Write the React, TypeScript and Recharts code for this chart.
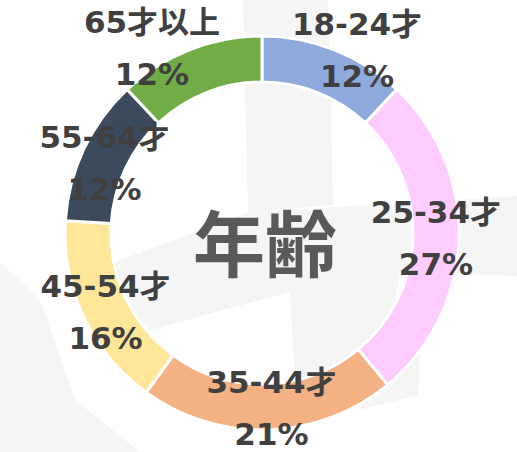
import { PieChart, Pie, Cell } from 'recharts';

const ageGroups = ['18-24才', '25-34才', '35-44才', '45-54才', '55-64才', '65才以上'];
const shares = [12, 27, 21, 16, 12, 12];
const sliceColors = ['#8FAADC', '#FFCCFF', '#F4B183', '#FFE699', '#3C4A5E', '#70AD47'];

const data = ageGroups.map((name, i) => ({ name, value: shares[i] }));

const RAD = Math.PI / 180;
// Excel pushes the two top labels outward
const labelNudge = [[31, -21], [0, 0], [4, 1], [1, 5], [0, 4], [-46, -23]];

const renderLabel = (props: any) => {
  const { cx, cy, midAngle, innerRadius, outerRadius, index, name, percent } = props;
  const r = (innerRadius + outerRadius) / 2;
  const x = cx + r * Math.cos(-midAngle * RAD) + labelNudge[index][0];
  const y = cy + r * Math.sin(-midAngle * RAD) + labelNudge[index][1];
  return (
    <text
      x={x}
      y={y}
      textAnchor="middle"
      fill="#404040"
      fontSize={31}
      fontWeight={700}
      fontFamily="'DejaVu Sans', 'Noto Sans CJK JP', sans-serif"
    >
      <tspan x={x} y={y - 26} dominantBaseline="central">{name}</tspan>
      <tspan x={x} y={y + 26} dominantBaseline="central">{`${Math.round(percent * 100)}%`}</tspan>
    </text>
  );
};

export default function App() {
  return (
    <div style={{ position: 'absolute', left: 0, top: 0, width: 517, height: 452, background: '#fff', overflow: 'hidden' }}>
      {/* faint watermark behind the chart */}
      <svg width={517} height={452} style={{ position: 'absolute', left: 0, top: 0 }}>
        <g fill="#f5f5f5">
          <polygon points="243,0 328,0 333,205 248,212" />
          <polygon points="115,262 250,212 517,196 517,276 400,272 290,292 150,330 118,300" />
          <polygon points="290,292 400,272 392,330 340,370 295,380" />
          <polygon points="0,262 40,300 75,400 140,452 0,452" />
          <polygon points="392,330 420,345 418,395 360,410" />
        </g>
      </svg>
      <div style={{ position: 'absolute', left: 0, top: 0 }}>
        <PieChart width={517} height={452} margin={{ top: 0, right: 0, bottom: 0, left: 0 }}>
          <Pie
            data={data}
            dataKey="value"
            nameKey="name"
            cx={262}
            cy={233}
            innerRadius={151}
            outerRadius={197}
            startAngle={90}
            endAngle={-270}
            stroke="#ffffff"
            strokeWidth={3}
            label={renderLabel}
            labelLine={false}
            isAnimationActive={false}
          >
            {data.map((entry, index) => (
              <Cell key={`cell-${index}`} fill={sliceColors[index]} />
            ))}
          </Pie>
        </PieChart>
      </div>
      <div
        style={{
          position: 'absolute',
          left: 165,
          top: 196,
          width: 200,
          textAlign: 'center',
          fontSize: 72,
          lineHeight: '88px',
          fontWeight: 700,
          color: '#595959',
          fontFamily: "'Noto Sans CJK JP', sans-serif",
        }}
      >
        年齢
      </div>
    </div>
  );
}
